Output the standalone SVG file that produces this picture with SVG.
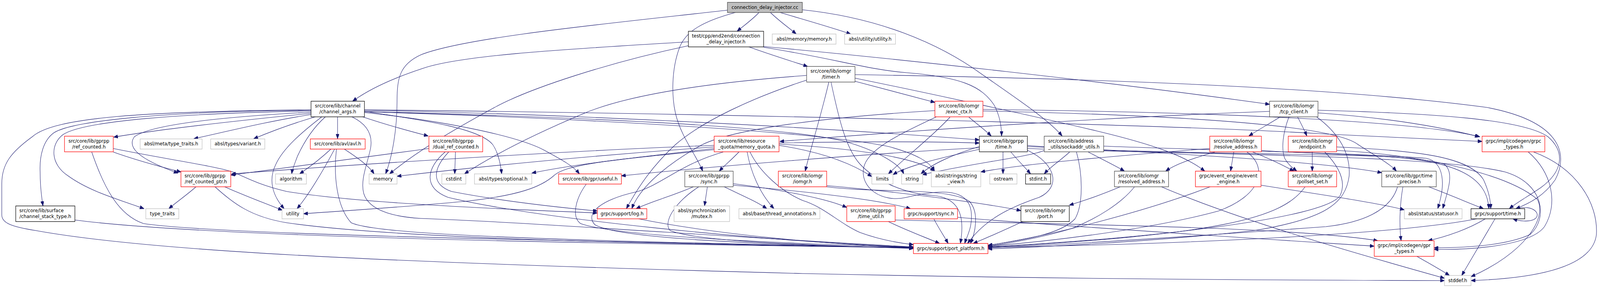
<svg xmlns="http://www.w3.org/2000/svg" width="4465" height="737" viewBox="0 0 4465 737" preserveAspectRatio="none">
<style>
svg{width:100vw;height:100vh}
.n rect{fill:#fff;stroke-width:1.3}
.k rect{stroke:#000}.g rect{stroke:#bfbfbf}.r rect{stroke:#ff0000}.d rect{stroke:#404040}
text{font-family:"DejaVu Sans",sans-serif;font-size:13px;fill:#000;text-anchor:middle}
text.s{text-anchor:start}
#edges path{fill:none;stroke:#191970;stroke-width:1.1;marker-end:url(#a)}
</style>
<defs>
<marker id="a" viewBox="0 0 12 9" refX="12" refY="4.5" markerWidth="12" markerHeight="9" markerUnits="userSpaceOnUse" orient="auto"><path d="M0,0 L12,4.5 L0,9 z" fill="#191970" stroke="#191970"/></marker>
</defs>
<rect width="4465" height="737" fill="#fff"/>
<g id="edges">
<path d="M2118,32 C2100,50 2075,66 2057,80"/>
<path d="M2150,32 C2172,52 2200,70 2222,87"/>
<path d="M2177,32 C2250,52 2320,70 2374,87"/>
<path d="M2030,26 C1700,60 1300,95 1175,140 C1115,165 1108,200 1108,260 C1108,330 1095,400 1076,445"/>
<path d="M2052,32 C1960,55 1915,80 1897,120 C1872,180 1875,250 1885,290 C1900,350 1945,400 1961,438"/>
<path d="M2239,25 C2450,45 2620,110 2740,190 C2850,260 2930,310 2964,348"/>
<path d="M1921,107 C1600,125 1290,140 1180,175 C1080,205 1020,235 984,259"/>
<path d="M1921,117 C1700,160 1480,225 1380,275 C1250,340 1160,390 1087,445"/>
<path d="M2090,120 C2150,140 2210,157 2254,170"/>
<path d="M2131,119 C2500,150 3100,210 3543,267"/>
<path d="M2131,121 C2330,150 2420,178 2530,186 C2680,197 2740,220 2775,270 C2792,300 2795,330 2795,348"/>
<path d="M2386,191 C3000,200 3700,220 4150,275 C4350,310 4380,390 4340,460 C4310,500 4270,520 4230,534"/>
<path d="M2386,200 C2600,240 2900,300 3060,335 C3220,370 3310,400 3362,438"/>
<path d="M2386,208 C2470,228 2550,248 2609,262"/>
<path d="M2313,210 C2290,300 2262,380 2247,438"/>
<path d="M2319,210 C2340,300 2360,380 2400,420 C2440,460 2520,495 2600,500 C2690,505 2690,570 2680,623"/>
<path d="M2251,193 C2000,210 1760,240 1630,290 C1500,340 1380,395 1296,445"/>
<path d="M2251,205 C2100,250 1960,310 1885,370 C1820,425 1780,480 1748,534"/>
<path d="M2609,283 C2300,300 2050,330 1960,370 C1880,410 1790,470 1763,534"/>
<path d="M2613,299 C2520,340 2420,380 2410,430 C2400,480 2460,520 2530,505 C2620,485 2700,480 2710,540 C2715,580 2700,600 2692,623"/>
<path d="M2651,300 C2600,350 2530,400 2479,445"/>
<path d="M2704,300 C2730,320 2752,335 2766,348"/>
<path d="M2743,280 C3200,285 3900,300 4130,350"/>
<path d="M2743,284 C3300,295 3720,320 3790,370 C3840,400 3880,420 3897,438"/>
<path d="M3678,282 C4000,290 4250,305 4320,350 C4370,390 4360,440 4300,480 C4260,505 4230,520 4212,534"/>
<path d="M3543,285 C3100,300 2600,330 2176,362"/>
<path d="M3573,299 C3545,315 3510,333 3485,348"/>
<path d="M3597,299 C3580,340 3575,380 3585,405 C3595,422 3608,430 3619,438"/>
<path d="M3621,299 C3630,315 3640,333 3647,348"/>
<path d="M3678,289 C3850,300 4000,320 4128,350"/>
<path d="M3674,299 C3720,330 3770,380 3765,450 C3755,520 3700,560 3500,590 C3200,620 2900,632 2757,637"/>
<path d="M868,282 C450,285 200,310 150,340 C120,360 110,400 112,440 C112,480 116,505 120,527"/>
<path d="M868,284 C500,290 230,310 175,345 C140,370 140,420 190,450 C250,490 330,510 402,534"/>
<path d="M868,287 C600,300 420,320 375,350 C355,375 380,405 497,443"/>
<path d="M868,290 C650,310 450,330 317,351"/>
<path d="M868,293 C750,310 640,335 541,355"/>
<path d="M880,299 C820,315 760,335 708,355"/>
<path d="M868,281 C400,285 150,300 90,350 C30,390 5,420 5,470 L5,550 C5,570 30,580 100,590 C400,640 1000,670 2240,700 C3000,715 3600,717 4031,718"/>
<path d="M908,299 C870,330 845,370 830,400 C822,420 816,432 814,445"/>
<path d="M898,299 C840,340 790,380 770,420 C748,460 760,500 793,534"/>
<path d="M942,299 L942,355"/>
<path d="M1012,299 C1080,320 1140,335 1195,348"/>
<path d="M1017,285 C1200,310 1340,330 1375,370 C1390,390 1397,420 1400,445"/>
<path d="M982,299 C1030,320 1040,350 1034,380 C1025,420 1005,460 1015,495 C1030,540 1100,555 1175,559 C1500,570 2000,605 2549,632"/>
<path d="M1017,282 C1500,290 2200,320 2733,358"/>
<path d="M1017,285 C1600,300 2150,320 2350,360 C2450,385 2510,420 2522,445"/>
<path d="M1017,286 C1700,305 2300,340 2480,375 C2560,395 2595,415 2608,438"/>
<path d="M1017,288 C1250,310 1450,350 1520,385 C1570,410 1600,425 1617,445"/>
<path d="M1017,281 C2000,290 3300,320 3700,343 C3900,352 4050,358 4136,362"/>
<path d="M316,389 C380,410 440,425 505,440"/>
<path d="M256,389 C290,480 330,550 400,572 C600,600 1500,615 2549,634"/>
<path d="M316,380 C450,405 600,425 650,440 C700,460 730,475 800,490 C1000,520 1400,535 1667,545"/>
<path d="M547,478 C520,500 495,515 471,534"/>
<path d="M627,478 C680,500 740,520 788,538"/>
<path d="M600,478 C650,520 700,555 800,570 C1100,610 1800,625 2549,633"/>
<path d="M924,381 C890,410 860,430 836,445"/>
<path d="M934,381 C900,440 860,500 829,534"/>
<path d="M960,381 C1000,405 1030,425 1044,445"/>
<path d="M939,381 C930,450 940,530 980,570 C1050,600 1500,615 2549,634"/>
<path d="M1197,380 C1000,405 800,430 644,448"/>
<path d="M1271,389 L1269,445"/>
<path d="M1242,389 C1190,430 1180,480 1250,505 C1500,560 2100,615 2549,633"/>
<path d="M1252,389 C1210,430 1200,470 1260,490 C1400,515 1550,530 1667,540"/>
<path d="M1993,372 C1600,385 1000,420 646,445"/>
<path d="M1993,376 C1700,395 1400,420 1108,451"/>
<path d="M1993,380 C1800,400 1600,420 1484,443"/>
<path d="M1993,383 C1700,410 1580,420 1545,450 C1510,478 1450,500 1300,515 C1100,532 950,540 847,547"/>
<path d="M2062,389 C2040,410 2020,425 2007,438"/>
<path d="M2085,389 C2095,440 2120,495 2160,534"/>
<path d="M2018,389 C1900,420 1850,470 1780,490 C1680,510 1630,545 1660,575 C1720,610 2100,625 2549,635"/>
<path d="M2093,389 C2120,440 2180,490 2240,513 C2300,530 2340,570 2400,595 C2460,615 2510,622 2549,626"/>
<path d="M2174,372 C2300,390 2380,420 2433,452"/>
<path d="M2174,369 C2400,380 2560,405 2608,438"/>
<path d="M2174,366 C2400,362 2600,362 2733,366"/>
<path d="M2799,389 L2799,445"/>
<path d="M2821,389 C2840,410 2860,428 2876,445"/>
<path d="M2733,375 C2660,395 2600,420 2570,445"/>
<path d="M2733,382 C2620,405 2530,425 2492,447"/>
<path d="M2733,378 C2400,395 2000,425 1734,450"/>
<path d="M2866,384 C2950,420 2960,480 2900,505 C2820,530 2750,560 2700,623"/>
<path d="M2867,375 C3300,392 3700,415 3856,442"/>
<path d="M2867,372 C3100,392 3600,392 3850,400 C4080,410 4150,460 4155,534"/>
<path d="M2867,380 C3300,395 4000,395 4200,440 C4310,470 4320,560 4270,600 C4200,630 4080,634 4002,634"/>
<path d="M2985,389 C2960,410 2930,428 2914,445"/>
<path d="M3037,389 C3080,410 3115,425 3138,438"/>
<path d="M3004,389 C3020,440 3025,520 3000,560 C2960,600 2850,615 2757,628"/>
<path d="M3080,374 C3400,385 3800,392 3980,405 C4030,415 4035,470 4012,534"/>
<path d="M2914,385 C2880,400 2700,420 2574,447"/>
<path d="M3390,389 C3330,405 3280,420 3253,438"/>
<path d="M3443,389 L3434,438"/>
<path d="M3480,389 C3540,430 3520,500 3400,540 C3200,590 2900,620 2757,630"/>
<path d="M3496,389 C3540,405 3585,425 3611,438"/>
<path d="M3376,380 C3100,400 2850,420 2737,440"/>
<path d="M3520,385 C3650,395 3950,395 4030,420 C4060,440 4040,490 4026,534"/>
<path d="M3662,389 L3662,438"/>
<path d="M3697,389 C3730,420 3760,460 3740,500 C3700,560 3200,610 2757,632"/>
<path d="M3730,376 C3950,385 4100,400 4140,460 C4155,490 4160,515 4160,534"/>
<path d="M3730,385 C3950,395 4200,440 4290,510 C4320,560 4250,650 4105,708"/>
<path d="M4265,389 C4330,440 4350,520 4310,580 C4270,630 4100,640 4002,638"/>
<path d="M4280,389 C4400,430 4460,520 4455,600 C4445,680 4300,712 4105,718"/>
<path d="M4121,560 C3900,600 3300,625 2757,633"/>
<path d="M4145,560 C4100,585 4040,605 3985,616"/>
<path d="M4172,560 L4079,705"/>
<path d="M4232,534 C4280,522 4305,550 4280,562 C4265,568 4240,566 4222,560"/>
<path d="M3954,656 C3990,675 4020,690 4045,705"/>
<path d="M3987,478 C4050,500 4100,520 4140,534"/>
<path d="M3915,478 C3905,530 3905,580 3910,616"/>
<path d="M3900,478 C3880,540 3800,570 3700,580 C3400,600 3000,625 2757,634"/>
<path d="M1782,560 C2000,600 2300,625 2549,634"/>
<path d="M1935,478 C1880,500 1820,515 1775,534"/>
<path d="M1974,478 L1966,527"/>
<path d="M2021,478 C2070,500 2110,515 2140,534"/>
<path d="M2046,470 C2150,482 2300,505 2363,531"/>
<path d="M2046,474 C2250,490 2450,510 2541,534"/>
<path d="M1950,478 C1880,520 1850,570 1870,590 C1950,620 2300,628 2549,636"/>
<path d="M2307,475 C2500,490 2750,520 2849,539"/>
<path d="M2307,478 C2450,495 2640,478 2705,515 C2735,545 2720,600 2708,623"/>
<path d="M2479,567 C2530,590 2590,610 2622,623"/>
<path d="M2498,563 C3000,575 3600,580 3845,616"/>
<path d="M2606,560 C2620,585 2635,605 2646,623"/>
<path d="M2672,556 C2900,575 3500,610 3835,630"/>
<path d="M2854,567 C2800,590 2750,610 2716,623"/>
<path d="M3126,478 C3070,500 3020,515 2984,525"/>
<path d="M3166,478 C3130,520 3060,560 2990,585 C2900,610 2800,625 2757,630"/>
<path d="M3241,478 C3450,560 3750,640 4031,712"/>
<path d="M3377,478 C3200,540 2950,600 2757,628"/>
<path d="M3519,474 C3700,500 3850,520 3919,537"/>
<path d="M3642,478 C3580,560 3400,600 2757,633"/>
<path d="M1636,471 C1605,510 1595,555 1620,572 C1700,600 2100,622 2549,632"/>
<path d="M209,563 C600,610 1800,625 2549,634"/>
</g>
<g id="n0" class="n d"><rect x="2030" y="6" width="209" height="26" style="fill:#bfbfbf"/><text x="2134.5" y="23">connection_delay_injector.cc</text></g>
<g id="n1" class="n k"><rect x="1921" y="80" width="210" height="40"/><text x="2026" y="96.5">test/cpp/end2end/connection</text><text x="2026" y="111.5">_delay_injector.h</text></g>
<g id="n2" class="n g"><rect x="2155" y="87" width="178" height="26"/><text x="2244" y="104">absl/memory/memory.h</text></g>
<g id="n3" class="n g"><rect x="2357" y="87" width="142" height="26"/><text x="2428" y="104">absl/utility/utility.h</text></g>
<g id="n4" class="n d"><rect x="2251" y="170" width="135" height="40"/><text x="2318.5" y="186.5">src/core/lib/iomgr</text><text x="2318.5" y="201.5">/timer.h</text></g>
<g id="n5" class="n k"><rect x="868" y="259" width="149" height="40"/><text x="942.5" y="275.5">src/core/lib/channel</text><text x="942.5" y="290.5">/channel_args.h</text></g>
<g id="n6" class="n r"><rect x="2609" y="259" width="134" height="40"/><text x="2676" y="275.5">src/core/lib/iomgr</text><text x="2676" y="290.5">/exec_ctx.h</text></g>
<g id="n7" class="n d"><rect x="3543" y="259" width="135" height="40"/><text x="3610.5" y="275.5">src/core/lib/iomgr</text><text x="3610.5" y="290.5">/tcp_client.h</text></g>
<g id="n8" class="n r"><rect x="180" y="348.5" width="136" height="40"/><text x="248" y="365">src/core/lib/gprpp</text><text x="248" y="380">/ref_counted.h</text></g>
<g id="n9" class="n g"><rect x="391" y="355.5" width="173" height="26"/><text x="477.5" y="372.5">absl/meta/type_traits.h</text></g>
<g id="n10" class="n g"><rect x="588" y="355.5" width="151" height="26"/><text x="663.5" y="372.5">absl/types/variant.h</text></g>
<g id="n11" class="n r"><rect x="866" y="355.5" width="153" height="26"/><text x="942.5" y="372.5">src/core/lib/avl/avl.h</text></g>
<g id="n12" class="n r"><rect x="1197" y="348.5" width="150" height="40"/><text class="s" x="1207.6" y="365">src/core/lib/gprpp</text><text x="1272" y="380">/dual_ref_counted.h</text></g>
<g id="n13" class="n r"><rect x="1993" y="348.5" width="181" height="40"/><text class="s" x="2004" y="365">src/core/lib/resource</text><text x="2083.5" y="380">_quota/memory_quota.h</text></g>
<g id="n14" class="n k"><rect x="2733" y="348.5" width="134" height="40"/><text x="2800" y="365">src/core/lib/gprpp</text><text x="2800" y="380">/time.h</text></g>
<g id="n15" class="n d"><rect x="2914" y="348.5" width="166" height="40"/><text class="s" x="2925" y="365">src/core/lib/address</text><text x="2997" y="380">_utils/sockaddr_utils.h</text></g>
<g id="n16" class="n r"><rect x="3376" y="348.5" width="144" height="40"/><text class="s" x="3387" y="365">src/core/lib/iomgr</text><text x="3448" y="380">/resolve_address.h</text></g>
<g id="n17" class="n r"><rect x="3595" y="348.5" width="135" height="40"/><text x="3662.5" y="365">src/core/lib/iomgr</text><text x="3662.5" y="380">/endpoint.h</text></g>
<g id="n18" class="n r"><rect x="4136" y="348.5" width="175" height="40"/><text x="4223.5" y="365">grpc/impl/codegen/grpc</text><text x="4223.5" y="380">_types.h</text></g>
<g id="n19" class="n r"><rect x="505" y="438" width="139" height="40"/><text class="s" x="515" y="454.5">src/core/lib/gprpp</text><text x="574.5" y="469.5">/ref_counted_ptr.h</text></g>
<g id="n20" class="n g"><rect x="769" y="445" width="86" height="26"/><text x="812" y="462">algorithm</text></g>
<g id="n21" class="n g"><rect x="1030" y="445" width="78" height="26"/><text x="1069" y="462">memory</text></g>
<g id="n22" class="n g"><rect x="1233" y="445" width="67" height="26"/><text x="1266.5" y="462">cstdint</text></g>
<g id="n23" class="n g"><rect x="1324" y="445" width="160" height="26"/><text x="1404" y="462">absl/types/optional.h</text></g>
<g id="n24" class="n r"><rect x="1559" y="445" width="175" height="26"/><text x="1646.5" y="462">src/core/lib/gpr/useful.h</text></g>
<g id="n25" class="n d"><rect x="1911" y="438" width="135" height="40"/><text x="1978.5" y="454.5">src/core/lib/gprpp</text><text x="1978.5" y="469.5">/sync.h</text></g>
<g id="n26" class="n r"><rect x="2172" y="438" width="135" height="40"/><text x="2239.5" y="454.5">src/core/lib/iomgr</text><text x="2239.5" y="469.5">/iomgr.h</text></g>
<g id="n27" class="n g"><rect x="2433" y="445" width="59" height="26"/><text x="2462.5" y="462">limits</text></g>
<g id="n28" class="n g"><rect x="2516" y="445" width="59" height="26"/><text x="2545.5" y="462">string</text></g>
<g id="n29" class="n g"><rect x="2599" y="438" width="138" height="40"/><text x="2668" y="454.5">absl/strings/string</text><text x="2668" y="469.5">_view.h</text></g>
<g id="n30" class="n g"><rect x="2762" y="445" width="76" height="26"/><text x="2800" y="462">ostream</text></g>
<g id="n31" class="n k"><rect x="2862" y="445" width="70" height="26"/><text x="2897" y="462">stdint.h</text></g>
<g id="n32" class="n d"><rect x="3110" y="438" width="151" height="40"/><text class="s" x="3120.4" y="454.5">src/core/lib/iomgr</text><text x="3185.5" y="469.5">/resolved_address.h</text></g>
<g id="n33" class="n r"><rect x="3336" y="438" width="183" height="40"/><text x="3427.5" y="454.5">grpc/event_engine/event</text><text x="3427.5" y="469.5">_engine.h</text></g>
<g id="n34" class="n r"><rect x="3595" y="438" width="135" height="40"/><text x="3662.5" y="454.5">src/core/lib/iomgr</text><text x="3662.5" y="469.5">/pollset_set.h</text></g>
<g id="n35" class="n d"><rect x="3856" y="438" width="152" height="40"/><text x="3932" y="454.5">src/core/lib/gpr/time</text><text x="3932" y="469.5">_precise.h</text></g>
<g id="n36" class="n k"><rect x="44" y="527" width="165" height="40"/><text class="s" x="54" y="543.5">src/core/lib/surface</text><text x="126.5" y="558.5">/channel_stack_type.h</text></g>
<g id="n37" class="n g"><rect x="407" y="534" width="92" height="26"/><text x="453" y="551">type_traits</text></g>
<g id="n38" class="n g"><rect x="787" y="534" width="60" height="26"/><text x="817" y="551">utility</text></g>
<g id="n39" class="n r"><rect x="1667" y="534" width="138" height="26"/><text x="1736" y="551">grpc/support/log.h</text></g>
<g id="n40" class="n g"><rect x="1881" y="527" width="155" height="40"/><text x="1958.5" y="543.5">absl/synchronization</text><text x="1958.5" y="558.5">/mutex.h</text></g>
<g id="n41" class="n g"><rect x="2062" y="534" width="226" height="26"/><text x="2175" y="551">absl/base/thread_annotations.h</text></g>
<g id="n42" class="n r"><rect x="2363" y="527" width="135" height="40"/><text x="2430.5" y="543.5">src/core/lib/gprpp</text><text x="2430.5" y="558.5">/time_util.h</text></g>
<g id="n43" class="n r"><rect x="2523" y="534" width="149" height="26"/><text x="2597.5" y="551">grpc/support/sync.h</text></g>
<g id="n44" class="n k"><rect x="2849" y="527" width="135" height="40"/><text x="2916.5" y="543.5">src/core/lib/iomgr</text><text x="2916.5" y="558.5">/port.h</text></g>
<g id="n45" class="n g"><rect x="3919" y="534" width="161" height="26"/><text x="3999.5" y="551">absl/status/statusor.h</text></g>
<g id="n46" class="n k"><rect x="4105" y="534" width="150" height="26"/><text x="4180" y="551">grpc/support/time.h</text></g>
<g id="n47" class="n r"><rect x="2549" y="623" width="208" height="26"/><text x="2653" y="640">grpc/support/port_platform.h</text></g>
<g id="n48" class="n r"><rect x="3835" y="616" width="167" height="40"/><text x="3918.5" y="632.5">grpc/impl/codegen/gpr</text><text x="3918.5" y="647.5">_types.h</text></g>
<g id="n49" class="n g"><rect x="4031" y="705" width="74" height="26"/><text x="4068" y="722">stddef.h</text></g>
</svg>
